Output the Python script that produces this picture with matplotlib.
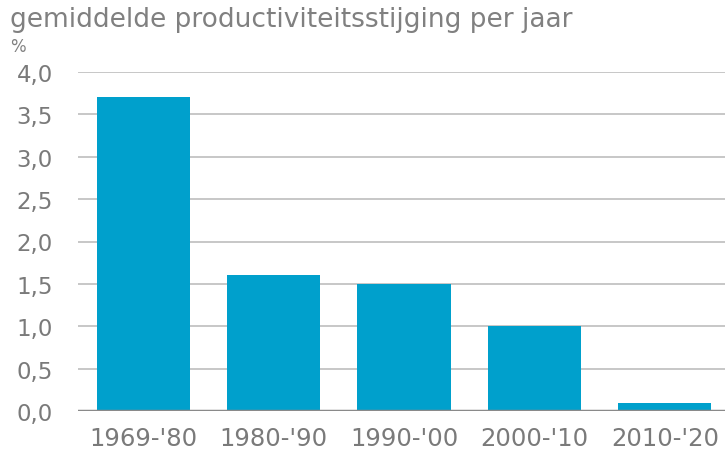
import matplotlib
matplotlib.use("Agg")
import matplotlib.pyplot as plt
from matplotlib.ticker import FuncFormatter

categories = ["1969-'80", "1980-'90", "1990-'00", "2000-'10", "2010-'20"]
values = [3.7, 1.6, 1.5, 1.0, 0.1]
yticks = [0.0, 0.5, 1.0, 1.5, 2.0, 2.5, 3.0, 3.5, 4.0]

plt.rcParams['font.family'] = ['DejaVu Sans']

fig = plt.figure(figsize=(7.25, 4.52), dpi=100)
ax = fig.add_axes([78/725, 1 - 412/452, (730 - 78)/725, (412 - 73)/452])

x = range(len(categories))
ax.bar(x, values, width=0.715, color='#00A0CC', zorder=3)

ax.set_xlim(-0.5, len(categories) - 0.5)
ax.set_ylim(0, 4.0)
ax.set_yticks(yticks)
ax.yaxis.set_major_formatter(FuncFormatter(lambda v, p: f"{v:.1f}".replace('.', ',')))
ax.set_xticks(list(x))
ax.set_xticklabels(categories)

ax.grid(axis='y', color='#bdbdbd', linewidth=1.2, zorder=0)
ax.axhline(0, color='#8a8a8a', linewidth=2.5, zorder=4)
for s in ax.spines.values():
    s.set_visible(False)
ax.tick_params(axis='y', length=0, pad=18, labelsize=16.5, labelcolor='#7a7a7a')
ax.tick_params(axis='x', length=0, pad=11, labelsize=17.5, labelcolor='#7a7a7a')

fig.text(10/725, 1 - 20/452, "gemiddelde productiviteitsstijging per jaar",
         fontsize=19, color='#808080', va='center', ha='left')
fig.text(10/725, 1 - 47/452, "%", fontsize=12, color='#808080', va='center', ha='left')

fig.savefig("out.png", dpi=100)
